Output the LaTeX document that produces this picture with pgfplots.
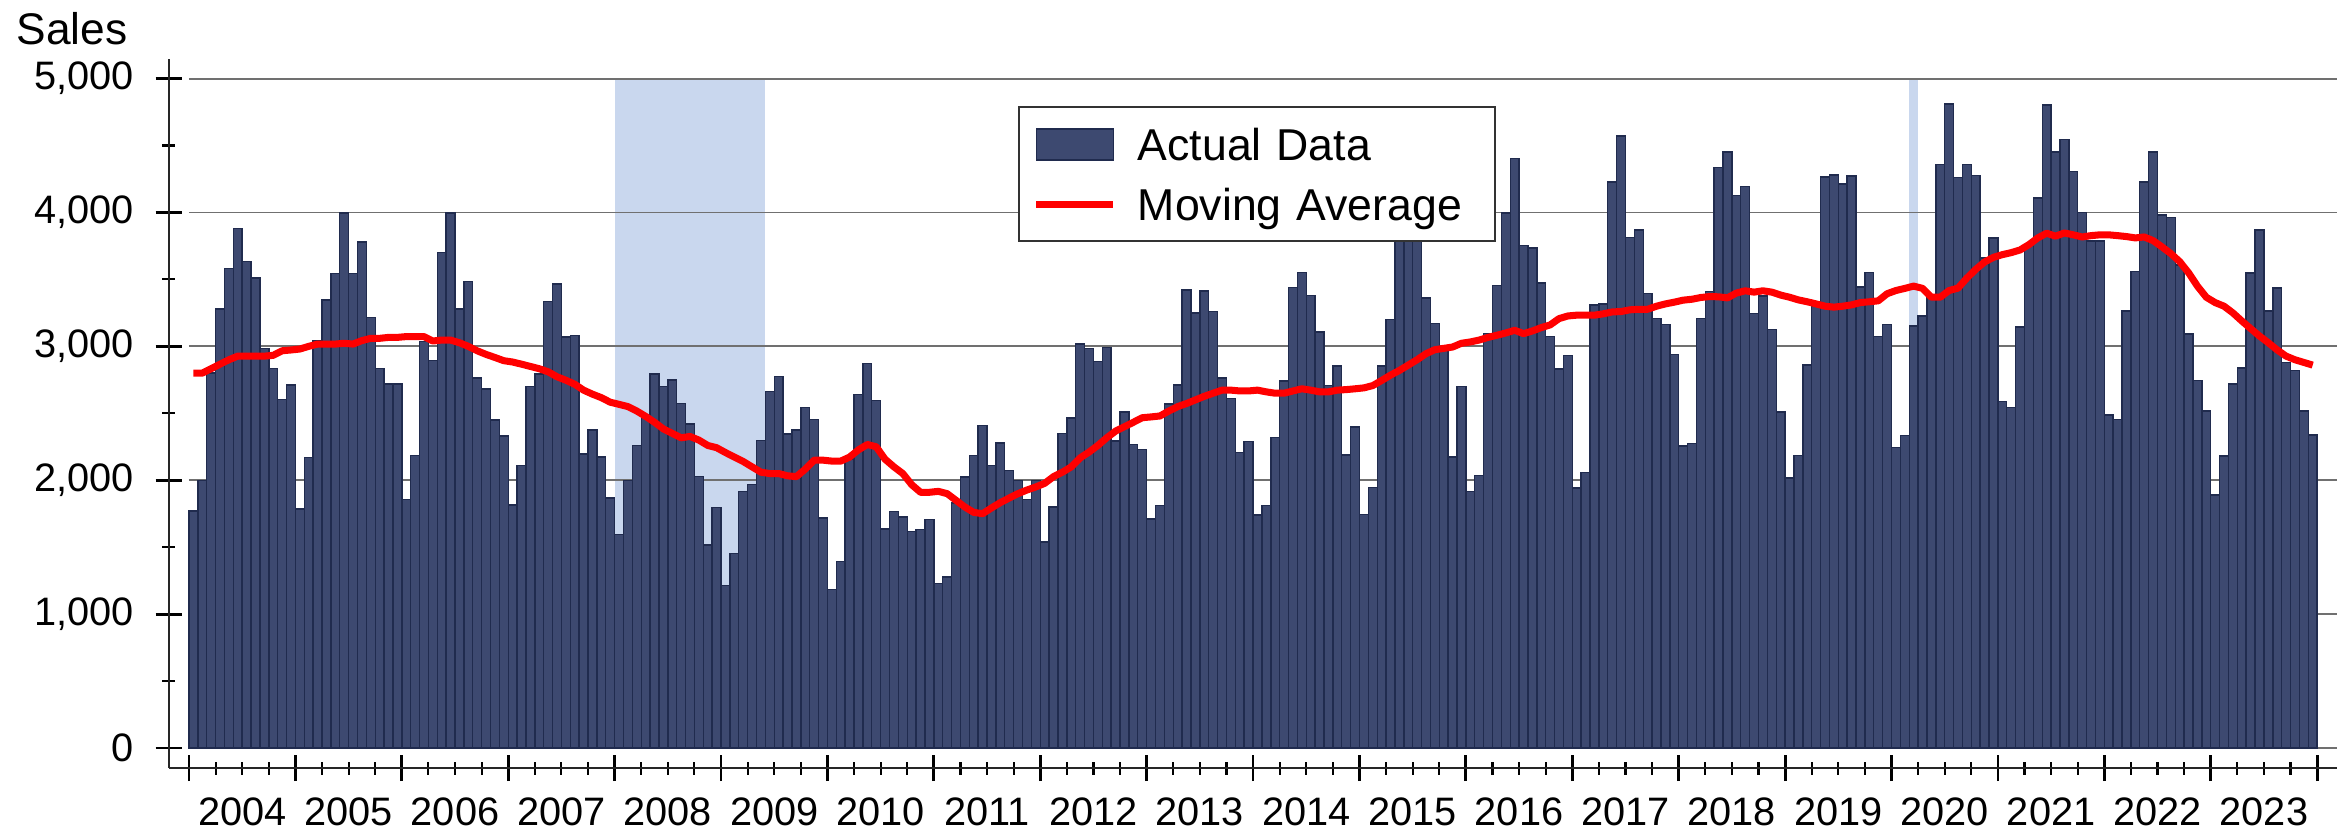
\documentclass[border=0pt]{standalone}
\usepackage{fontspec}
\setmainfont{Liberation Sans}
\usepackage{pgfplots}
\usepackage{pgfplotstable}
\pgfplotsset{compat=1.18}
\definecolor{barfill}{HTML}{3D4970}
\definecolor{baredge}{HTML}{202B4E}
\definecolor{recess}{HTML}{C9D7EE}
\definecolor{gridgray}{HTML}{707070}

% monthly sales (s) and moving average (m), month 0 = Jan 2004
\pgfplotstableread{
i s m
0 1770 2800
1 2000 2800
2 2800 2833
3 3280 2867
4 3580 2900
5 3880 2927
6 3635 2927
7 3510 2927
8 2985 2927
9 2835 2933
10 2605 2967
11 2710 2973
12 1785 2980
13 2170 3000
14 3040 3017
15 3345 3017
16 3545 3017
17 3995 3023
18 3545 3017
19 3780 3043
20 3215 3060
21 2835 3060
22 2720 3067
23 2720 3067
24 1855 3073
25 2185 3073
26 3035 3073
27 2895 3040
28 3700 3047
29 3995 3047
30 3280 3027
31 3485 3000
32 2765 2967
33 2680 2940
34 2450 2917
35 2330 2893
36 1815 2883
37 2110 2867
38 2700 2850
39 2795 2833
40 3335 2810
41 3465 2773
42 3070 2747
43 3080 2717
44 2195 2673
45 2375 2643
46 2175 2617
47 1868 2583
48 1595 2567
49 2000 2550
50 2260 2517
51 2490 2477
52 2795 2433
53 2700 2383
54 2750 2350
55 2575 2317
56 2420 2327
57 2030 2300
58 1515 2260
59 1795 2243
60 1215 2207
61 1455 2173
62 1915 2140
63 1970 2100
64 2295 2060
65 2665 2050
66 2775 2050
67 2345 2033
68 2375 2027
69 2545 2083
70 2455 2150
71 1718 2150
72 1185 2143
73 1395 2143
74 2160 2173
75 2640 2227
76 2870 2267
77 2595 2250
78 1635 2157
79 1768 2100
80 1725 2050
81 1615 1967
82 1630 1910
83 1708 1910
84 1230 1917
85 1278 1900
86 1830 1850
87 2025 1800
88 2185 1760
89 2410 1750
90 2110 1793
91 2278 1833
92 2075 1867
93 2000 1900
94 1855 1927
95 1998 1950
96 1540 1977
97 1800 2027
98 2348 2060
99 2465 2100
100 3017 2167
101 2985 2210
102 2885 2260
103 2990 2317
104 2293 2367
105 2510 2400
106 2268 2433
107 2228 2467
108 1710 2473
109 1810 2480
110 2568 2517
111 2712 2550
112 3420 2573
113 3250 2600
114 3412 2627
115 3260 2650
116 2765 2673
117 2610 2673
118 2206 2667
119 2288 2667
120 1740 2673
121 1810 2660
122 2320 2650
123 2740 2650
124 3440 2667
125 3552 2683
126 3380 2673
127 3107 2660
128 2708 2660
129 2853 2673
130 2188 2677
131 2398 2683
132 1746 2690
133 1944 2707
134 2853 2745
135 3200 2785
136 3950 2820
137 4100 2860
138 3900 2900
139 3362 2945
140 3172 2975
141 2990 2985
142 2174 2995
143 2698 3023
144 1917 3033
145 2035 3047
146 3094 3067
147 3453 3083
148 3997 3100
149 4403 3120
150 3752 3095
151 3734 3115
152 3472 3140
153 3073 3160
154 2832 3207
155 2932 3227
156 1943 3233
157 2060 3233
158 3310 3233
159 3317 3243
160 4227 3257
161 4570 3260
162 3815 3273
163 3870 3277
164 3395 3277
165 3208 3300
166 3163 3317
167 2940 3330
168 2255 3345
169 2273 3352
170 3206 3365
171 3410 3372
172 4335 3370
173 4453 3362
174 4127 3398
175 4195 3415
176 3245 3405
177 3377 3415
178 3125 3405
179 2511 3383
180 2017 3367
181 2185 3347
182 2861 3333
183 3300 3317
184 4265 3300
185 4280 3293
186 4213 3300
187 4272 3310
188 3442 3327
189 3553 3333
190 3073 3340
191 3163 3393
192 2245 3417
193 2333 3433
194 3152 3450
195 3226 3433
196 3370 3367
197 4357 3367
198 4810 3417
199 4259 3435
200 4357 3510
201 4275 3575
202 3661 3630
203 3808 3665
204 2587 3685
205 2543 3700
206 3144 3720
207 3760 3760
208 4109 3810
209 4803 3845
210 4453 3823
211 4545 3847
212 4308 3833
213 4000 3817
214 3788 3827
215 3788 3833
216 2488 3833
217 2455 3827
218 3263 3820
219 3561 3810
220 4228 3817
221 4453 3790
222 3982 3743
223 3964 3693
224 3608 3633
225 3092 3550
226 2746 3450
227 2517 3367
228 1891 3327
229 2182 3300
230 2720 3250
231 2837 3190
232 3549 3133
233 3870 3077
234 3263 3027
235 3435 2973
236 2880 2927
237 2819 2900
238 2517 2880
239 2339 2860
}\sales

\begin{document}
\begin{tikzpicture}
\begin{axis}[
  scale only axis, width=216.8mm, height=70.95mm,
  xmin=-2.8, xmax=241.7, ymin=-149.4, ymax=5150,
  clip=false,
  axis lines=left,
  axis line style={-, line width=0.6pt, black!85},
  xtick={-0.5,11.5,...,239.5},
  xticklabels={2004,2005,2006,2007,2008,2009,2010,2011,2012,2013,2014,2015,2016,2017,2018,2019,2020,2021,2022,2023,{}},
  x tick label as interval,
  minor x tick num=3,
  ytick={0,1000,...,5000},
  minor y tick num=1,
  tick align=center,
  major tick length=2.6mm, minor tick length=1.3mm,
  every major tick/.append style={line width=0.8pt, black},
  every minor tick/.append style={line width=0.6pt, black},
  tick label style={font=\fontsize{11.3pt}{13pt}\selectfont},
  /pgf/number format/assume math mode=true,
  /pgf/number format/1000 sep={,},
  yticklabel style={anchor=east, inner sep=0pt, xshift=-2.1mm},
  xticklabel style={anchor=north, inner sep=0pt, yshift=-1.6mm},
  legend style={
    at={(axis description cs:0.3918,0.9326)}, anchor=north west,
    draw=black!80, line width=0.45pt, fill=white,
    inner xsep=1.4mm, inner ysep=2.1mm,
    row sep=2.76mm, column sep=2.1mm,
    font=\fontsize{12.7pt}{15pt}\selectfont,
    nodes={inner sep=0pt, text width=34.3mm, text height=3.2mm, text depth=0pt, align=left},
    cells={anchor=west},
  },
]
% recession shading
\addplot[fill=recess, draw=none, forget plot] coordinates {(47.5,0) (47.5,5000) (64.5,5000) (64.5,0)} -- cycle;
\addplot[fill=recess, draw=none, forget plot] coordinates {(193.5,0) (193.5,5000) (194.5,5000) (194.5,0)} -- cycle;
% horizontal grid lines
\addplot[gridgray, line width=0.55pt, forget plot] coordinates {(-0.5,0) (241.7,0)};
\addplot[gridgray, line width=0.55pt, forget plot] coordinates {(-0.5,1000) (241.7,1000)};
\addplot[gridgray, line width=0.55pt, forget plot] coordinates {(-0.5,2000) (241.7,2000)};
\addplot[gridgray, line width=0.55pt, forget plot] coordinates {(-0.5,3000) (241.7,3000)};
\addplot[gridgray, line width=0.55pt, forget plot] coordinates {(-0.5,4000) (241.7,4000)};
\addplot[gridgray, line width=0.55pt, forget plot] coordinates {(-0.5,5000) (241.7,5000)};

\addplot[ybar, bar width=1, fill=barfill, draw=baredge, line width=0.4pt,
  legend image code/.code={\filldraw[fill=barfill, draw=baredge, line width=0.4pt] (0mm,-1.55mm) rectangle (7.7mm,1.55mm);}]
  table[x=i, y=s] {\sales};
\addlegendentry{Actual Data}
\addplot[red, line width=2pt, line join=round, mark=none,
  legend image code/.code={\draw[red, line width=2pt] (0mm,0mm) -- (7.7mm,0mm);}]
  table[x=i, y=m] {\sales};
\addlegendentry{Moving Average}

\node[anchor=base west, inner sep=0pt, font=\fontsize{12.6pt}{15pt}\selectfont] at (axis cs:-20.0,5258) {Sales};
\path (axis cs:-21.815,-634.9) rectangle (axis cs:243.32,5587.1);
\end{axis}
\end{tikzpicture}
\end{document}
